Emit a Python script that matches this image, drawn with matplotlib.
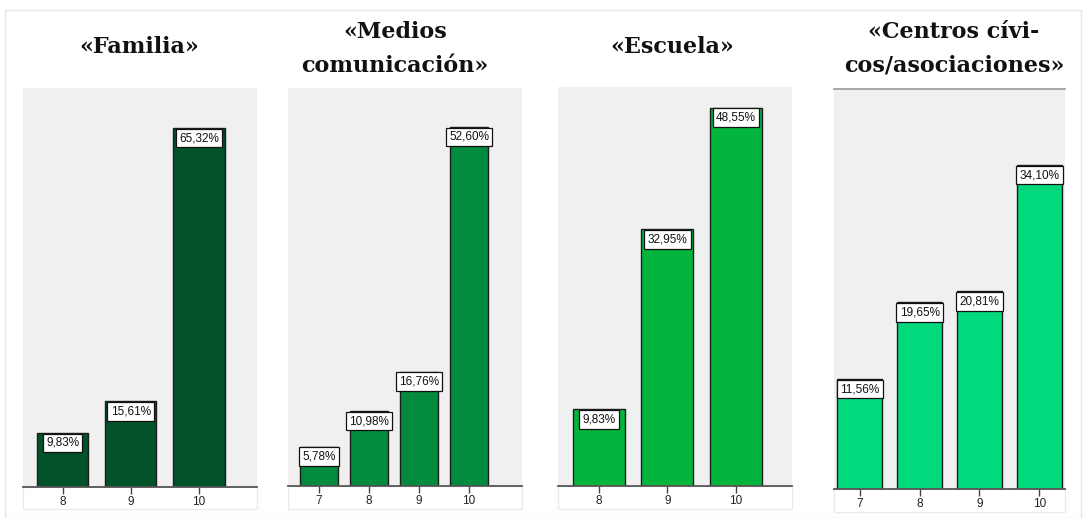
import matplotlib
matplotlib.use("Agg")
import matplotlib.pyplot as plt
from matplotlib.patches import Rectangle

# Data: percentage of each score per source
titles = ["«Familia»", "«Medios\ncomunicación»", "«Escuela»", "«Centros cívi-\ncos/asociaciones»"]
familia_cats = ["8", "9", "10"]
familia_vals = [9.83, 15.61, 65.32]
medios_cats = ["7", "8", "9", "10"]
medios_vals = [5.78, 10.98, 16.76, 52.60]
escuela_cats = ["8", "9", "10"]
escuela_vals = [9.83, 32.95, 48.55]
centros_cats = ["7", "8", "9", "10"]
centros_vals = [11.56, 19.65, 20.81, 34.10]

colors = ["#02522a", "#028b3e", "#03b53d", "#02d97d"]

W, H = 1086, 518
fig = plt.figure(figsize=(W / 100, H / 100), dpi=100)
fig.patch.set_facecolor("white")

# outer frame
fig.add_artist(Rectangle((5 / W, 0), (W - 10) / W, 1 - 10 / H, transform=fig.transFigure,
                         fill=False, edgecolor="#e6e6e6", lw=1, zorder=-2))

# panel geometry in pixels: x0, x1, top, axis line, strip bottom, ymax, xlim, bar width
panels = [
    (23, 257, 88, 487, 509, 72.6, (-0.58, 2.85), 0.75),
    (288, 522, 88, 486, 509, 58.3, (-0.62, 4.06), 0.76),
    (558, 792, 87, 486, 509, 51.2, (-0.60, 2.82), 0.76),
    (834, 1065, 89, 489, 512, 42.1, (-0.43, 3.43), 0.76),
]
title_pos = [(139, 47), (395, 49), (672, 47), (954, 49)]
data = [(familia_cats, familia_vals), (medios_cats, medios_vals),
        (escuela_cats, escuela_vals), (centros_cats, centros_vals)]

for i, ((x0, x1, top, base, sb, ymax, xl, bw), (cats, vals)) in enumerate(zip(panels, data)):
    # white strip under the axis holding tick labels
    fig.add_artist(Rectangle((x0 / W, 1 - sb / H), (x1 - x0) / W, (sb - base) / H,
                             transform=fig.transFigure, facecolor="white",
                             edgecolor="#ebebeb", lw=1, zorder=-1))
    ax = fig.add_axes([x0 / W, 1 - base / H, (x1 - x0) / W, (base - top) / H])
    ax.set_facecolor("#f0f0f0")
    xs = list(range(len(cats)))
    ax.bar(xs, vals, width=bw, color=colors[i], edgecolor="#1c1c1c", lw=1.0, zorder=2)
    ax.set_xlim(*xl)
    ax.set_ylim(0, ymax)
    ax.set_xticks(xs)
    ax.set_xticklabels(cats, fontsize=8.5, family="Liberation Sans", color="#222222")
    ax.tick_params(axis="x", length=5, width=1, color="#444444", pad=1.5)
    ax.set_yticks([])
    for s in ["left", "right", "top"]:
        ax.spines[s].set_visible(False)
    ax.spines["bottom"].set_color("#555555")
    ax.spines["bottom"].set_linewidth(1.3)
    if i == 3:
        ax.spines["top"].set_visible(True)
        ax.spines["top"].set_color("#9a9a9a")
        ax.spines["top"].set_linewidth(1.2)
    for x, v in zip(xs, vals):
        ax.annotate(f"{v:.2f}%".replace(".", ","), (x, v), xytext=(0, -7.2),
                    textcoords="offset points", ha="center", va="center",
                    fontsize=8.5, family="Liberation Sans", color="#111111", zorder=3,
                    bbox=dict(boxstyle="square,pad=0.28", facecolor="white",
                              edgecolor="#111111", lw=0.9))
    tx, ty = title_pos[i]
    fig.text(tx / W, 1 - ty / H, titles[i], ha="center", va="center",
             fontsize=16, fontweight="bold", family="DejaVu Serif",
             linespacing=1.7, color="#111111")

fig.savefig("out.png", dpi=100, facecolor="white")
